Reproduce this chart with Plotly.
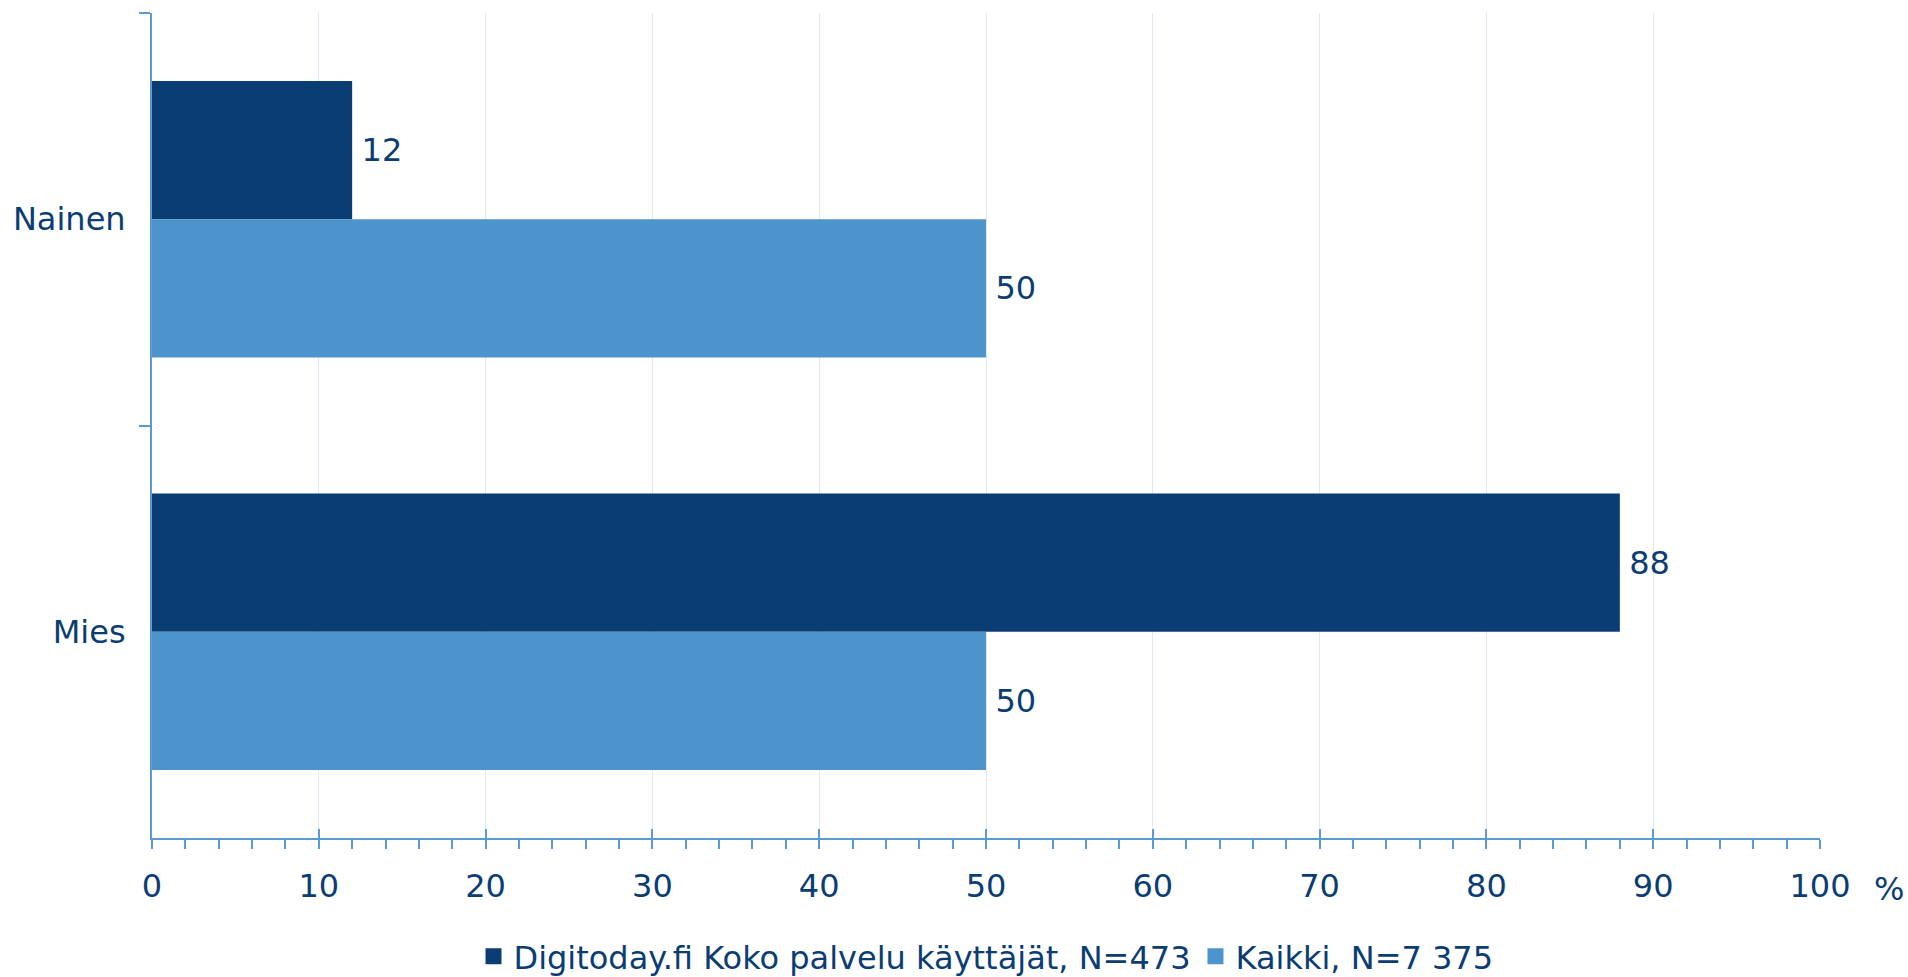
import plotly.graph_objects as go

categories = ["Nainen", "Mies"]
series_names = ["Digitoday.fi Koko palvelu käyttäjät, N=473", "Kaikki, N=7 375"]
digitoday_values = [12, 88]
kaikki_values = [50, 50]
x_ticks = [0, 10, 20, 30, 40, 50, 60, 70, 80, 90, 100]

dark = "#0B3D75"
light = "#4D94CD"
text_col = "#0B3D73"
axis_col = "#5B9BD5"
font_family = "DejaVu Sans"
fs = 32

fig = go.Figure()
for name, vals, col in [(series_names[0], digitoday_values, dark),
                        (series_names[1], kaikki_values, light)]:
    fig.add_trace(go.Bar(
        y=categories, x=vals, orientation="h", name=name,
        marker=dict(color=col, line=dict(width=0)),
        text=vals, texttemplate="\u2009%{x}", textposition="outside",
        textfont=dict(color=text_col, size=fs, family=font_family),
        cliponaxis=False, showlegend=False,
    ))
# legend entries with square symbols
for name, col in [(series_names[0], dark), (series_names[1], light)]:
    fig.add_trace(go.Scatter(
        x=[None], y=[None], mode="markers", name=name,
        marker=dict(symbol="square", size=20, color=col),
        showlegend=True,
    ))
# overlay axis for the upward half of major ticks
fig.add_trace(go.Scatter(x=[None], y=[None], xaxis="x2", showlegend=False,
                         hoverinfo="skip"))

fig.update_layout(
    width=1908, height=977,
    margin=dict(l=152, r=88, t=13, b=139, autoexpand=False),
    paper_bgcolor="white", plot_bgcolor="white",
    font=dict(family=font_family, size=fs, color=text_col),
    barmode="group", bargap=0.33, bargroupgap=0,
    xaxis=dict(
        range=[0, 100], tickvals=x_ticks, ticktext=[str(v) for v in x_ticks],
        showgrid=True, gridcolor="#DEE9F5", gridwidth=1,
        showline=True, linecolor=axis_col, linewidth=2,
        ticks="outside", ticklen=9, tickwidth=2, tickcolor=axis_col,
        minor=dict(dtick=2, ticks="outside", ticklen=9, tickwidth=2,
                   tickcolor=axis_col, showgrid=False),
        ticklabelstandoff=10, automargin=False,
        zeroline=False, fixedrange=True,
        tickfont=dict(size=fs, color=text_col),
    ),
    xaxis2=dict(
        overlaying="x", matches="x", anchor="y", side="bottom",
        range=[0, 100], tickvals=x_ticks, showticklabels=False,
        ticks="inside", ticklen=9, tickwidth=2, tickcolor=axis_col,
        showgrid=False, showline=False, zeroline=False, automargin=False,
    ),
    yaxis=dict(
        categoryorder="array", categoryarray=categories,
        autorange="reversed",
        showline=True, linecolor=axis_col, linewidth=2,
        ticks="outside", tickson="boundaries", ticklen=11, tickwidth=2,
        tickcolor=axis_col, showgrid=False, zeroline=False,
        ticklabelstandoff=18, automargin=False, fixedrange=True,
        tickfont=dict(size=fs, color=text_col),
    ),
    legend=dict(
        orientation="h", x=0.5, xanchor="center",
        yref="container", y=0.021, yanchor="middle",
        font=dict(size=fs, color=text_col), traceorder="normal",
        itemsizing="trace",
    ),
    annotations=[dict(
        text="%", xref="paper", yref="paper", x=1, y=0,
        xanchor="left", yanchor="middle", xshift=52, yshift=-51,
        showarrow=False, font=dict(size=fs, color=text_col),
    )],
)

fig.write_html("out.html",
               config={"displayModeBar": False},
               post_script="document.body.style.margin='0';document.body.style.overflow='hidden';")
